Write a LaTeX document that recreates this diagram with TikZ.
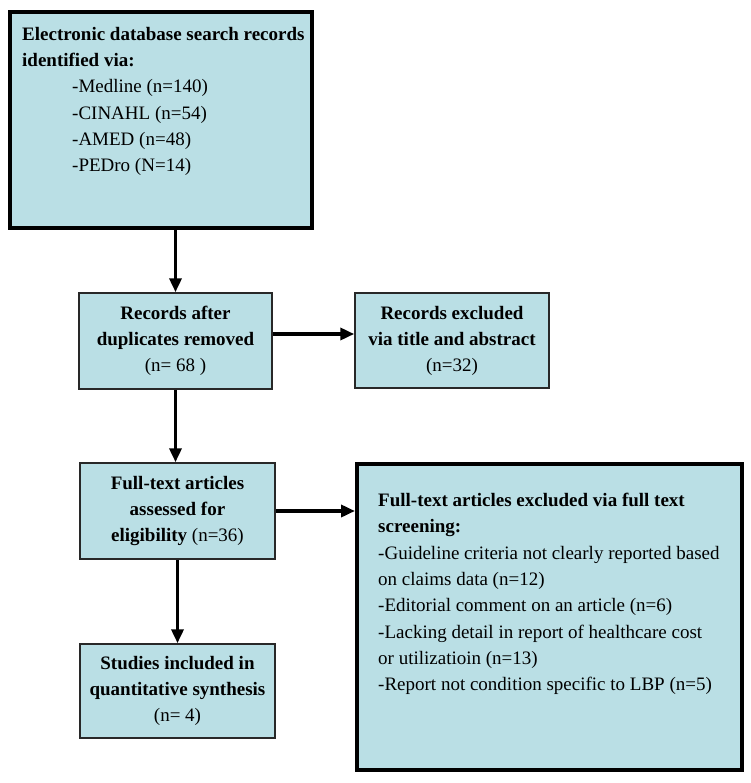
\documentclass[tikz,border=0pt]{standalone}
\usepackage{fontspec}
\setmainfont{Liberation Serif}
\usetikzlibrary{arrows.meta}
\definecolor{boxfill}{RGB}{186,223,229}
\definecolor{boxline}{RGB}{40,40,40}
\begin{document}
\begin{tikzpicture}[x=1pt,y=-1pt,
  thinbox/.style={draw=boxline,line width=1.5pt,fill=boxfill,minimum width=#1,inner sep=0pt,align=center,font=\fontsize{19}{26}\selectfont},
  thickbox/.style={draw=black,line width=4pt,fill=boxfill,inner sep=0pt},
  txt/.style={anchor=north west,inner sep=0pt,align=left,font=\fontsize{19}{26.3}\selectfont},
  flow/.style={line width=3.8pt,-{Triangle[length=14pt,width=12pt]}}]
\useasboundingbox (0,0) rectangle (750,783);
\fill[white] (0,0) rectangle (750,783);
% boxes
\node[thickbox,minimum width=302pt,minimum height=216pt] (b1) at (161,120) {};
\node[txt] (t1) at (22,27) {\textbf{Electronic database search records}\\
\textbf{identified via:}\\
\hspace*{50pt}-Medline (n=140)\\
\hspace*{50pt}-CINAHL (n=54)\\
\hspace*{50pt}-AMED (n=48)\\
\hspace*{50pt}-PEDro (N=14)};
\node[thinbox=193pt,minimum height=96pt] (b2) at (175.5,341) {\textbf{Records after}\\ \textbf{duplicates removed}\\ (n= 68 )};
\node[thinbox=194pt,minimum height=95pt] (b3) at (452,340.5) {\textbf{Records excluded}\\ \textbf{via title and abstract}\\ (n=32)};
\node[thinbox=195pt,minimum height=96pt] (b4) at (177.5,511) {\textbf{Full-text articles}\\ \textbf{assessed for}\\ \textbf{eligibility} (n=36)};
\node[thinbox=195pt,minimum height=94pt] (b5) at (177.5,691) {\textbf{Studies included in}\\ \textbf{quantitative synthesis}\\ (n= 4)};
\node[thickbox,minimum width=385pt,minimum height=306pt] (b6) at (549.5,617) {};
\node[txt] (t6) at (378,493) {\textbf{Full-text articles excluded via full text}\\
\textbf{screening:}\\
-Guideline criteria not clearly reported based\\
on claims data (n=12)\\
-Editorial comment on an article (n=6)\\
-Lacking detail in report of healthcare cost\\
or utilizatioin (n=13)\\
-Report not condition specific to LBP (n=5)};
% connectors
\draw[flow] (b1.south -| b2.north) -- (b2.north);
\draw[flow] ([yshift=7pt]b2.east) -- ([yshift=7pt]b2.east -| b3.west);
\draw[flow] (b2.south) -- (b2.south |- b4.north);
\draw[flow] (b4.east) -- (b4.east -| b6.west);
\draw[flow] (b4.south) -- (b5.north);
\end{tikzpicture}
\end{document}
